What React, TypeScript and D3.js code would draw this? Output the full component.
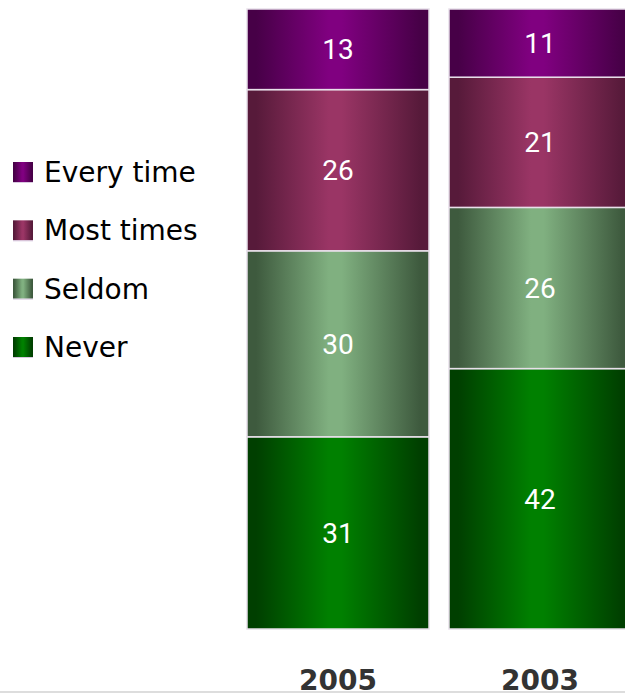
import React from "react";
import * as d3 from "d3";

const years = ["2005", "2003"];
const categories = ["Never", "Seldom", "Most times", "Every time"];
const legendOrder = ["Every time", "Most times", "Seldom", "Never"];
const values2005 = [31, 30, 26, 13];
const values2003 = [42, 26, 21, 11];
const seriesValues = [values2005, values2003];
const edgeColors = ["#003f00", "#3e5a3e", "#571a3a", "#470047"];
const centerColors = ["#008000", "#80b080", "#9a3565", "#800080"];

const W = 625;
const H = 693;

export default function App() {
  const x = d3.scaleBand().domain(years).range([247, 631]).paddingInner(20 / 202).paddingOuter(0);
  const y = d3.scaleLinear().domain([0, 100]).range([629, 9]);
  const stackData = years.map((yr, i) => {
    const o: any = { year: yr };
    categories.forEach((c, j) => (o[c] = seriesValues[i][j]));
    return o;
  });
  const stacked = d3.stack().keys(categories)(stackData);
  const legendY = d3.scalePoint().domain(legendOrder).range([172, 347]);

  return (
    <svg width={W} height={H} style={{ position: "absolute", left: 0, top: 0, background: "#fff" }}>
      <defs>
        {categories.map((c, j) => (
          <linearGradient key={c} id={`g${j}`} x1="0" x2="1" y1="0" y2="0">
            <stop offset="0" stopColor={edgeColors[j]} />
            <stop offset="0.05" stopColor={edgeColors[j]} />
            <stop offset="0.45" stopColor={centerColors[j]} />
            <stop offset="0.52" stopColor={centerColors[j]} />
            <stop offset="0.95" stopColor={edgeColors[j]} />
            <stop offset="1" stopColor={edgeColors[j]} />
          </linearGradient>
        ))}
      </defs>
      {stacked.map((layer, j) =>
        layer.map((d: any, i) => {
          const x0 = x(years[i])!;
          const y0 = y(d[1]);
          const h = y(d[0]) - y(d[1]);
          return (
            <g key={`${j}-${i}`}>
              <rect x={x0} y={y0} width={x.bandwidth()} height={h} fill={`url(#g${j})`} stroke="#e8e0ea" strokeWidth={1.5} />
              <text
                x={x0 + x.bandwidth() / 2}
                y={y0 + h / 2}
                dy="0.36em"
                textAnchor="middle"
                fill="#fff"
                fontFamily="Roboto"
                fontSize={28}
              >
                {d[1] - d[0]}
              </text>
            </g>
          );
        })
      )}
      {years.map((yr) => (
        <text
          key={yr}
          x={x(yr)! + x.bandwidth() / 2}
          y={690}
          textAnchor="middle"
          fill="#333"
          fontFamily="DejaVu Sans"
          fontWeight="bold"
          fontSize={28}
        >
          {yr}
        </text>
      ))}
      {legendOrder.map((c) => {
        const j = categories.indexOf(c);
        const cy = legendY(c)!;
        return (
          <g key={c}>
            <rect x={13} y={cy - 10} width={20} height={20} fill={`url(#g${j})`} />
            <line x1={13} x2={33} y1={cy + 10.5} y2={cy + 10.5} stroke="#d8c8e0" strokeWidth={1} />
            <text x={44} y={cy} dy="0.36em" fontFamily="DejaVu Sans" fontSize={28} fill="#000">
              {c}
            </text>
          </g>
        );
      })}
      <line x1={0} x2={W} y1={692} y2={692} stroke="#ddd" strokeWidth={2} />
    </svg>
  );
}
